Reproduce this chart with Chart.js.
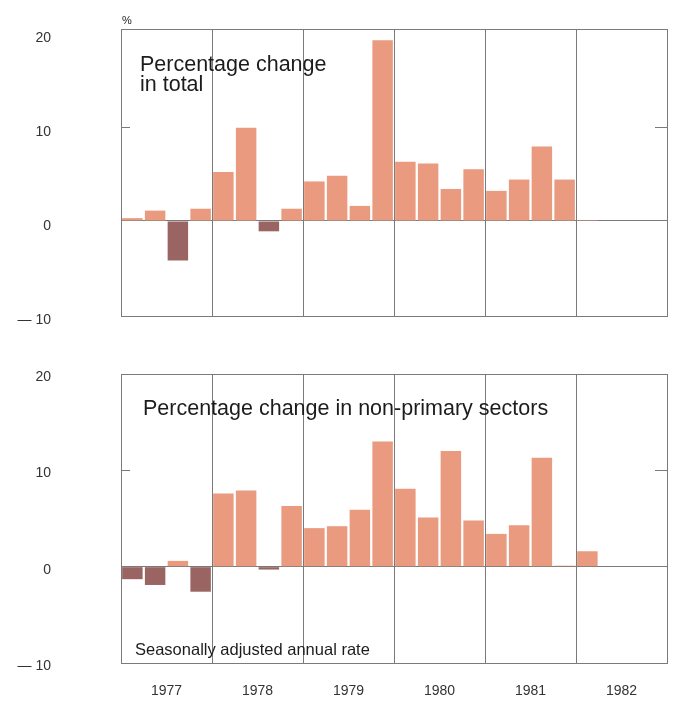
<!DOCTYPE html>
<html lang="en">
<head>
  <meta charset="UTF-8">
  <title>Percentage change</title>
  <script src="https://cdn.jsdelivr.net/npm/chart.js"></script>
  <style>
    body { margin: 0; background: #fff; }
    .wrap { position: absolute; left: 0; width: 674px; }
    #top { top: 0; height: 340px; }
    #bottom { top: 340px; height: 364px; }
  </style>
</head>
<body>
  <div class="wrap" id="top"><canvas id="chartTop" width="674" height="340"></canvas></div>
  <div class="wrap" id="bottom"><canvas id="chartBottom" width="674" height="364"></canvas></div>
  <script>
    // quarters 1977 Q1 .. 1982 Q4
    const years = ['1977', '1978', '1979', '1980', '1981', '1982'];
    const quarters = [];
    years.forEach(y => { for (let q = 1; q <= 4; q++) quarters.push(y + ' Q' + q); });

    const totalChange = [0.3, 1.1, -4.2, 1.3, 5.2, 9.9, -1.1, 1.3, 4.2, 4.8, 1.6, 19.2,
                         6.3, 6.1, 3.4, 5.5, 3.2, 4.4, 7.9, 4.4, 0.1, 0, 0, 0];
    const nonPrimaryChange = [-1.3, -1.9, 0.6, -2.6, 7.6, 7.9, -0.3, 6.3, 4.0, 4.2, 5.9, 13.0,
                              8.1, 5.1, 12.0, 4.8, 3.4, 4.3, 11.3, 0.1, 1.6, 0, 0, 0];
    const yTicks = [-10, 0, 10, 20];

    const FONT = '"Liberation Sans", Arial, sans-serif';
    const LIGHT = '#e99a7f';
    const DARK = '#9a6462';
    const FRAME = '#7a7a7a';

    // frame round the plot and the little inside ticks at 10
    const framePlugin = {
      id: 'frame',
      afterDraw(chart, args, opts) {
        const { ctx, chartArea: a } = chart;
        const y10 = Math.round(chart.scales.y.getPixelForValue(10)) + 0.5;
        ctx.save();
        ctx.strokeStyle = FRAME;
        ctx.lineWidth = 1;
        ctx.strokeRect(Math.round(a.left) + 0.5, Math.round(a.top) + 0.5,
                       Math.round(a.right - a.left), Math.round(a.bottom - a.top));
        ctx.beginPath();
        ctx.moveTo(a.left, y10); ctx.lineTo(a.left + 9, y10);
        ctx.moveTo(a.right - 12, y10); ctx.lineTo(a.right, y10);
        ctx.stroke();
        ctx.fillStyle = '#1c1c1c';
        ctx.textBaseline = 'alphabetic';
        (opts.texts || []).forEach(t => {
          ctx.font = t.size + 'px ' + FONT;
          ctx.fillText(t.text, t.x, t.y);
        });
        ctx.restore();
      }
    };

    function makeChart(id, values, range, pad, texts, showYears, labelShift) {
      return new Chart(document.getElementById(id), {
        type: 'bar',
        data: {
          labels: quarters,
          datasets: [{
            data: values,
            backgroundColor: values.map(v => v < 0 ? DARK : LIGHT),
            borderWidth: 0,
            barPercentage: 0.9,
            categoryPercentage: 1.0
          }]
        },
        options: {
          responsive: false,
          animation: false,
          layout: { padding: pad },
          plugins: {
            legend: { display: false },
            tooltip: { enabled: false },
            frame: { texts: texts }
          },
          scales: {
            x: { display: false },
            yr: {
              type: 'category',
              position: 'bottom',
              labels: years,
              offset: true,
              border: { display: false },
              grid: { offset: true, drawTicks: false, color: FRAME, lineWidth: 1 },
              ticks: {
                display: showYears,
                padding: 20,
                color: '#333',
                font: { family: FONT, size: 14 }
              },
              afterFit(s) {
                s.height = showYears ? 40 : 0;
                s.paddingLeft = 0; s.paddingRight = 0;
              }
            },
            y: {
              min: range[0],
              max: range[1],
              border: { display: false },
              grid: {
                drawTicks: false,
                color: ctx => ctx.tick && ctx.tick.value === 0 ? FRAME : 'rgba(0,0,0,0)'
              },
              ticks: {
                padding: 70,
                labelOffset: labelShift,
                color: '#333',
                font: { family: FONT, size: 14 },
                callback: v => v < 0 ? '\u2014 ' + Math.abs(v) : String(v)
              },
              afterBuildTicks(s) { s.ticks = yTicks.map(v => ({ value: v })); },
              afterFit(s) {
                s.width = 121;
                s.paddingTop = 0; s.paddingBottom = 0;
              }
            }
          }
        },
        plugins: [framePlugin]
      });
    }

    makeChart('chartTop', totalChange, [-10.1, 20.4],
      { top: 29, right: 7, bottom: 24, left: 0 },
      [
        { text: '%', x: 122, y: 24, size: 11 },
        { text: 'Percentage change', x: 140, y: 71, size: 21.5 },
        { text: 'in total', x: 140, y: 91, size: 21.5 }
      ], false, 5);

    makeChart('chartBottom', nonPrimaryChange, [-10, 20],
      { top: 34, right: 7, bottom: 1, left: 0 },
      [
        { text: 'Percentage change in non-primary sectors', x: 143, y: 75, size: 21.5 },
        { text: 'Seasonally adjusted annual rate', x: 135, y: 315, size: 16.5 }
      ], true, 3);
  </script>
</body>
</html>
